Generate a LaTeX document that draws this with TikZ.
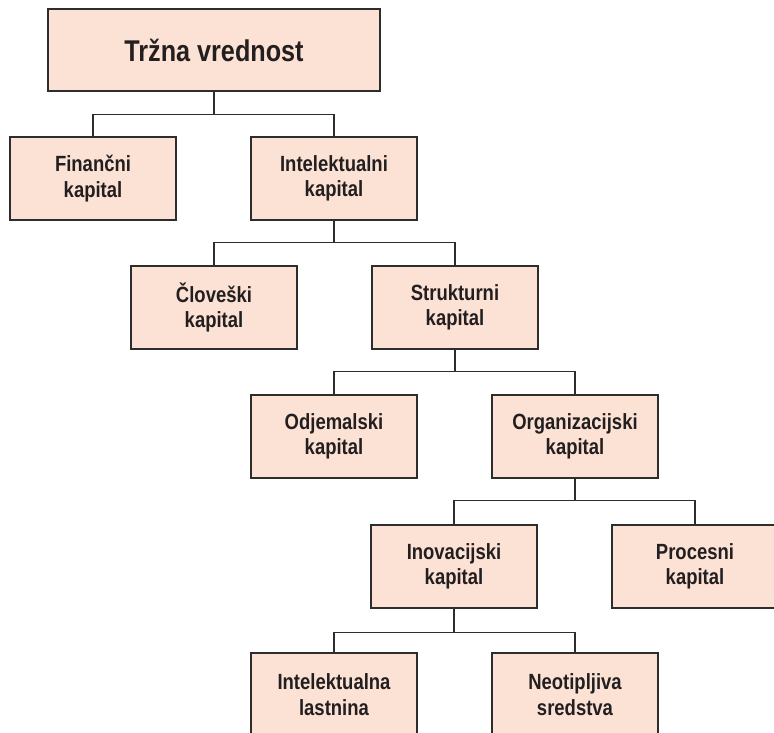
\documentclass[tikz,border=0pt]{standalone}
\usepackage{fontspec}
\setmainfont{Liberation Sans}[FakeStretch=0.84]
\usetikzlibrary{calc}
\definecolor{boxfill}{RGB}{252,226,212}
\definecolor{boxline}{RGB}{45,45,45}
\definecolor{txt}{RGB}{35,31,32}
\tikzset{
  kbox/.style={draw=boxline, line width=1.5pt, fill=boxfill, minimum width=166pt, minimum height=83pt,
    align=center, inner sep=0pt, font=\fontsize{22}{25.5}\selectfont\bfseries, text=txt},
  tbox/.style={kbox, minimum width=332pt, minimum height=82pt, font=\fontsize{30}{34}\selectfont\bfseries},
  conn/.style={draw=boxline, line width=1.4pt}
}
\begin{document}
\begin{tikzpicture}[x=1pt,y=-1pt]
\useasboundingbox (0,0) rectangle (774,733);
\clip (0,0) rectangle (774,733);
\node[tbox] (top) at (214,50) {Tržna vrednost};
\node[kbox] (fin) at (93,178.5) {Finančni\\kapital};
\node[kbox] (int) at (334,178.5) {Intelektualni\\kapital};
\node[kbox] (clo) at (214,307.5) {Človeški\\kapital};
\node[kbox] (str) at (455,307.5) {Strukturni\\kapital};
\node[kbox] (odj) at (334,436.5) {Odjemalski\\kapital};
\node[kbox] (org) at (575,436.5) {Organizacijski\\kapital};
\node[kbox] (ino) at (454,566.5) {Inovacijski\\kapital};
\node[kbox] (pro) at (695,566.5) {Procesni\\kapital};
\node[kbox] (lst) at (334,694.5) {Intelektualna\\lastnina};
\node[kbox] (neo) at (575,694.5) {Neotipljiva\\sredstva};
\draw[conn] (top.south) -- ++(0,23) -| (fin.north);
\draw[conn] (top.south) ++(0,23) -| (int.north);
\draw[conn] (int.south) -- ++(0,22) -| (clo.north);
\draw[conn] (int.south) ++(0,22) -| (str.north);
\draw[conn] (str.south) -- ++(0,22) -| (odj.north);
\draw[conn] (str.south) ++(0,22) -| (org.north);
\draw[conn] (org.south) -- ++(0,22) -| (ino.north);
\draw[conn] (org.south) ++(0,22) -| (pro.north);
\draw[conn] (ino.south) -- ++(0,24) -| (lst.north);
\draw[conn] (ino.south) ++(0,24) -| (neo.north);
\end{tikzpicture}
\end{document}
